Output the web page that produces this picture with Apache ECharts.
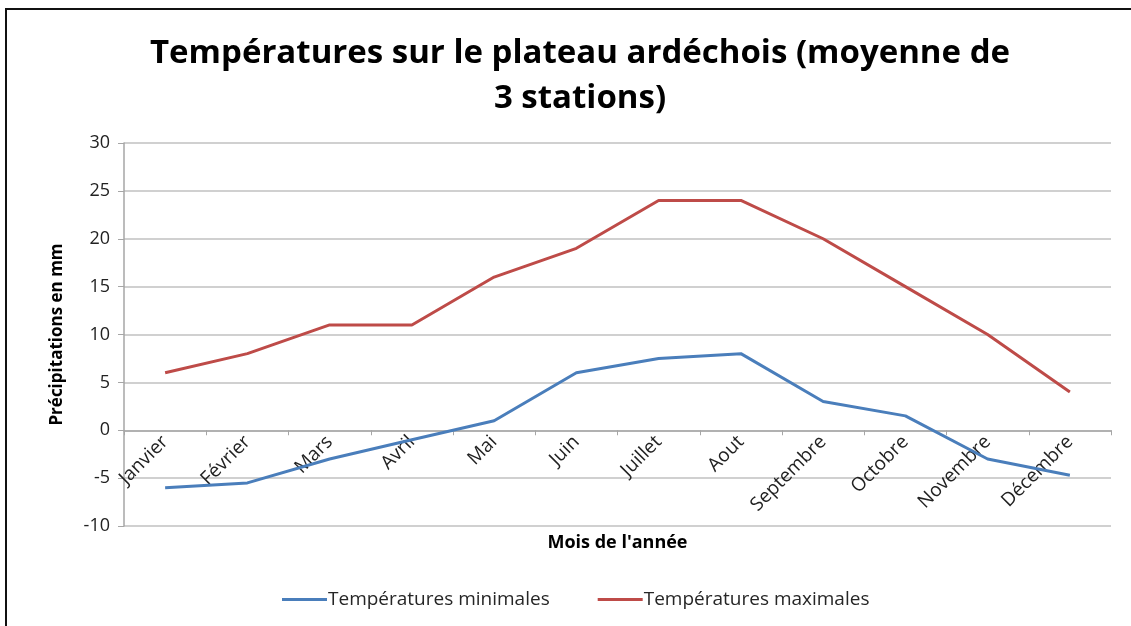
<!DOCTYPE html>
<html><head><meta charset="utf-8">
<script src="https://cdn.jsdelivr.net/npm/echarts@6/dist/echarts.min.js"></script>
<style>html,body{margin:0;padding:0;background:#fff;}#c{width:1131px;height:626px;}</style>
</head><body><div id="c"></div>
<script>
const months = ['Janvier','Février','Mars','Avril','Mai','Juin','Juillet','Aout','Septembre','Octobre','Novembre','Décembre'];
const tMin = [-6, -5.5, -3, -1, 1, 6, 7.5, 8, 3, 1.5, -3, -4.7];
const tMax = [6, 8, 11, 11, 16, 19, 24, 24, 20, 15, 10, 4];
const seriesNames = ['Températures minimales','Températures maximales'];
const FONT = 'Open Sans';
const chart = echarts.init(document.getElementById('c'));
chart.setOption({
  backgroundColor: '#fff',
  animation: false,
  graphic: [{type:'rect', shape:{x:6,y:9,width:1140,height:640}, style:{fill:'none', stroke:'#111', lineWidth:2}, z:-1}],
  title: {
    text: 'Températures sur le plateau ardéchois (moyenne de\n3 stations)',
    left: 575, top: 26, textAlign: 'center',
    textStyle: {fontFamily: FONT, fontWeight: 'bold', fontSize: 33, lineHeight: 45, color: '#000'}
  },
  legend: {
    left: 277, top: 585, itemWidth: 45, itemHeight: 3, itemGap: 48,
    icon: 'rect',
    textStyle: {fontFamily: FONT, fontSize: 19, color: '#262626', padding:[0,0,0,-4]},
    data: seriesNames
  },
  grid: {left: 124, right: 20, top: 143, bottom: 100, containLabel: false, outerBoundsMode: 'none'},
  xAxis: {
    type: 'category', data: months, boundaryGap: true,
    axisLine: {onZero: true, lineStyle: {color: '#a6a6a6', width: 1.5}},
    axisTick: {show: true, length: 5, lineStyle: {color: '#a6a6a6'}},
    axisLabel: {rotate: 45, fontFamily: FONT, fontSize: 19, color: '#222', interval: 0, margin: -87},
    name: "Mois de l'année", nameLocation: 'middle', nameGap: 8,
    nameTextStyle: {fontFamily: FONT, fontWeight: 'bold', fontSize: 18, color: '#000'}
  },
  yAxis: {
    type: 'value', min: -10, max: 30, interval: 5,
    axisLine: {show: true, lineStyle: {color: '#a6a6a6', width: 1.5}},
    axisTick: {show: true, inside: false, length: 6, lineStyle: {color: '#a6a6a6'}},
    splitLine: {lineStyle: {color: '#c0c0c0', width: 1.5}},
    axisLabel: {fontFamily: FONT, fontSize: 18, color: '#222', margin: 14},
    name: 'Précipitations en mm', nameLocation: 'middle', nameGap: 58,
    nameTextStyle: {fontFamily: FONT, fontWeight: 'bold', fontSize: 17, color: '#000'}
  },
  series: [
    {name: seriesNames[0], type: 'line', data: tMin, symbol: 'none', lineStyle: {color: '#4a7ebb', width: 3}, itemStyle: {color: '#4a7ebb'}},
    {name: seriesNames[1], type: 'line', data: tMax, symbol: 'none', lineStyle: {color: '#be4b48', width: 3}, itemStyle: {color: '#be4b48'}}
  ]
});
</script></body></html>
